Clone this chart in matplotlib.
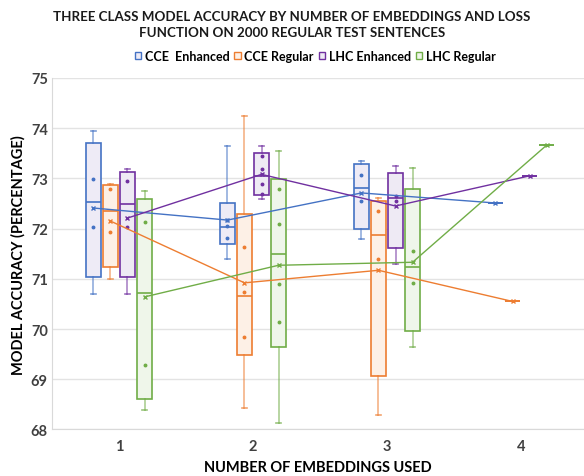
import matplotlib
matplotlib.use("Agg")
import matplotlib.pyplot as plt
from matplotlib.patches import Patch
import numpy as np

plt.rcParams['font.family'] = ['Lato', 'DejaVu Sans']

groups = [1, 2, 3, 4]
series = ["CCE  Enhanced", "CCE Regular", "LHC Enhanced", "LHC Regular"]
colors = ["#4472C4", "#ED7D31", "#7030A0", "#70AD47"]
fills = ["#EEEBF6", "#FDF0E6", "#EEEAF4", "#EFF6EA"]

# rows: series, columns: number of embeddings 1..4
whisker_low = [[70.70, 71.39, 71.80, 72.51],
               [70.99, 68.43, 68.29, 70.55],
               [70.70, 72.59, 71.30, 73.05],
               [68.39, 68.13, 69.65, 73.66]]
q1 = [[71.03, 71.69, 71.99, 72.51],
      [71.23, 69.49, 69.07, 70.55],
      [71.03, 72.66, 71.62, 73.05],
      [68.61, 69.64, 69.96, 73.66]]
median = [[72.52, 72.03, 72.81, 72.51],
          [72.36, 70.66, 71.87, 70.55],
          [72.49, 73.04, 72.61, 73.05],
          [70.72, 71.49, 71.23, 73.66]]
q3 = [[73.71, 72.51, 73.29, 72.51],
      [72.86, 72.29, 72.55, 70.55],
      [73.13, 73.50, 73.11, 73.05],
      [72.59, 72.99, 72.79, 73.66]]
whisker_high = [[73.94, 73.64, 73.35, 72.51],
                [72.89, 74.25, 72.60, 70.55],
                [73.19, 73.64, 73.25, 73.05],
                [72.74, 73.54, 73.20, 73.66]]
mean = [[72.41, 72.17, 72.71, 72.51],
        [72.15, 70.92, 71.17, 70.55],
        [72.21, 73.08, 72.45, 73.05],
        [70.64, 71.27, 71.33, 73.66]]
inner_points = [[[72.99, 72.04], [72.17, 72.05, 71.81], [73.06, 72.55], []],
                [[72.79, 71.94], [71.64, 70.74, 69.84], [72.35, 71.40], []],
                [[72.95, 72.04], [73.45, 73.19, 72.89, 72.69], [72.65, 72.55], []],
                [[72.14, 69.29], [72.79, 72.09, 70.89, 70.14], [71.55, 70.91], []]]

fig = plt.figure(figsize=(5.84, 4.77), dpi=100)
ax = fig.add_axes([0.089, 0.0975, 0.911, 0.737])

step = 0.127
box_w = 0.112
for i in range(4):
    pos = np.array(groups) + (i - 1.5) * step
    stats = []
    for j in range(4):
        stats.append(dict(whislo=whisker_low[i][j], q1=q1[i][j], med=median[i][j],
                          q3=q3[i][j], whishi=whisker_high[i][j], mean=mean[i][j]))
    ax.bxp(stats, positions=pos, widths=box_w, capwidths=0.035, patch_artist=True,
           showmeans=False, showfliers=False,
           boxprops=dict(facecolor=fills[i], edgecolor=colors[i], linewidth=1.2),
           medianprops=dict(color=colors[i], linewidth=1.2),
           whiskerprops=dict(color=colors[i], alpha=0.5, linewidth=1.4),
           capprops=dict(color=colors[i], alpha=0.7, linewidth=1.2),
           manage_ticks=False, zorder=2)
    for j in range(4):
        pts = inner_points[i][j]
        ax.plot([pos[j]] * len(pts), pts, 'o', color=colors[i], markersize=1.8, zorder=3)
    ax.plot(pos, mean[i], '-', color=colors[i], linewidth=1.0, zorder=4)
    ax.plot(pos, mean[i], 'x', color=colors[i], markersize=3.5, markeredgewidth=1.0, zorder=5)

ax.set_xlim(0.5, 4.47)
ax.set_ylim(68, 75)
ax.set_xticks(groups)
ax.set_yticks(range(68, 76))
ax.yaxis.grid(True, color="#E3E3E3", linewidth=1.0)
ax.set_axisbelow(True)
for s in ["top", "right"]:
    ax.spines[s].set_visible(False)
for s in ["left", "bottom"]:
    ax.spines[s].set_color("#D9D9D9")
ax.tick_params(length=0, labelsize=10.5, labelcolor="#404040")
ax.tick_params(axis="x", pad=7)
ax.tick_params(axis="y", pad=3)
for lab in ax.get_xticklabels() + ax.get_yticklabels():
    lab.set_fontweight("bold")

ax.set_xlabel("NUMBER OF EMBEDDINGS USED", fontsize=10.5, fontweight="bold",
              color="#000000", labelpad=5)
ax.set_ylabel("MODEL ACCURACY (PERCENTAGE)", fontsize=10.5, fontweight="bold",
              color="#000000", labelpad=4)

fig.text(0.5, 0.948, "THREE CLASS MODEL ACCURACY BY NUMBER OF EMBEDDINGS AND LOSS\n"
         "FUNCTION ON 2000 REGULAR TEST SENTENCES", ha="center", va="center",
         fontsize=9.6, fontweight="bold", color="#1A1A1A", linespacing=1.35)

handles = [Patch(facecolor=fills[i], edgecolor=colors[i], linewidth=1.0) for i in range(4)]
leg = fig.legend(handles, series, loc="center", bbox_to_anchor=(0.54, 0.88), ncol=4,
                 frameon=False, handlelength=0.5, handleheight=0.5, handletextpad=0.3,
                 columnspacing=0.4, prop=dict(size=9, weight="bold"))

fig.savefig("out.png", dpi=100)
